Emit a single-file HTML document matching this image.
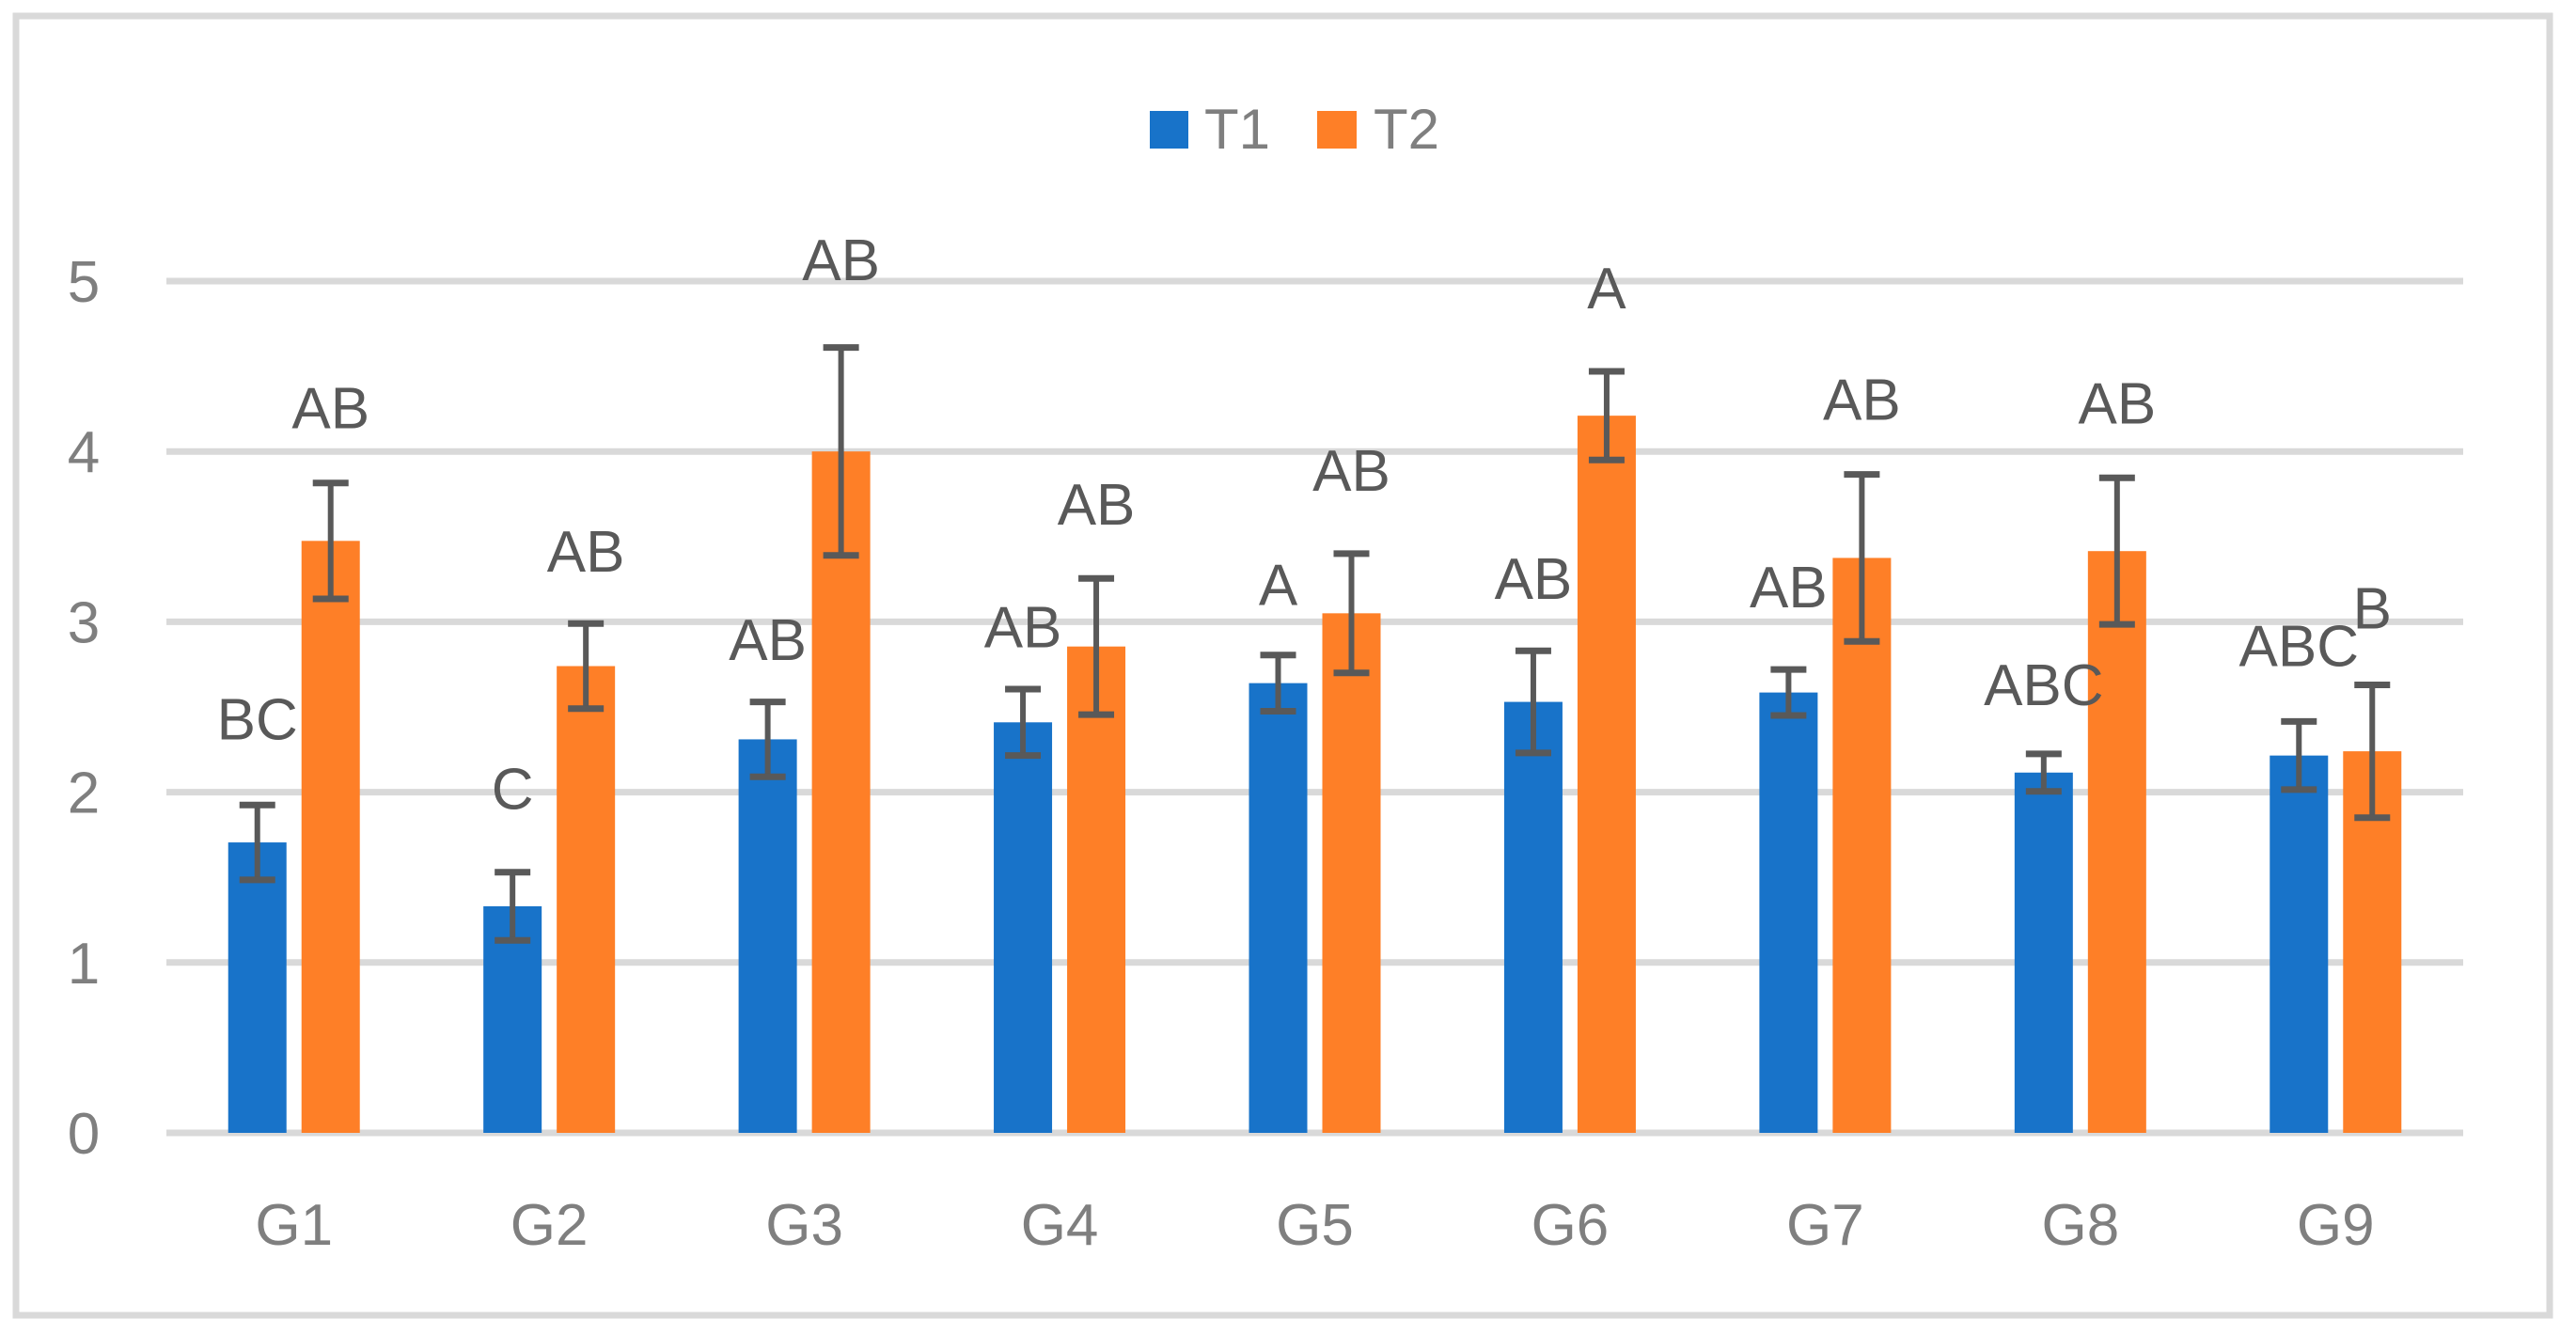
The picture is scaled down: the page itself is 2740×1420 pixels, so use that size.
<!DOCTYPE html>
<html><head><meta charset="utf-8"><style>
html,body{margin:0;padding:0;background:#fff;}
svg{display:block;font-family:"Liberation Sans",sans-serif;}
</style></head><body>
<svg id="chart" width="2740" height="1420" viewBox="0 0 2740 1420">
<rect x="17" y="17" width="2695" height="1382" fill="#fff" stroke="#d9d9d9" stroke-width="7"/>
<g id="grid"></g>
<g id="yticks"></g>
<g id="bars"></g>
<g id="errs"></g>
<g id="letters"></g>
<g id="xticks"></g>
<g>
<rect x="1223" y="118" width="41" height="40" fill="#1873c9"/>
<text x="1281" y="158" font-size="60" fill="#7f7f7f">T1</text>
<rect x="1401" y="118" width="42" height="40" fill="#fe7f27"/>
<text x="1461" y="158" font-size="60" fill="#7f7f7f">T2</text>
</g>
</svg>
<script>
const categories = ["G1","G2","G3","G4","G5","G6","G7","G8","G9"];
const t1Values = [1.705,1.33,2.31,2.41,2.64,2.53,2.585,2.115,2.215];
const t2Values = [3.475,2.74,4.0,2.855,3.05,4.21,3.375,3.415,2.24];
const t1Errors = [0.22,0.2,0.22,0.195,0.165,0.3,0.135,0.11,0.2];
const t2Errors = [0.34,0.25,0.61,0.4,0.35,0.26,0.49,0.43,0.39];
const t1Letters = ["BC","C","AB","AB","A","AB","AB","ABC","ABC"];
const t2Letters = ["AB","AB","AB","AB","AB","A","AB","AB","B"];
const t1LetterPos = [2.31,1.9,2.775,2.85,3.1,3.135,3.085,2.51,2.74];
const t2LetterPos = [4.135,3.295,5.005,3.57,3.77,4.84,4.185,4.165,2.96];
const yTicks = [0,1,2,3,4,5];

const NS="http://www.w3.org/2000/svg";
const plotL=177, plotR=2620, y0=1205, unit=181.2;
const band=(plotR-plotL)/categories.length;
const yS=v=>y0-v*unit;
const xC=i=>plotL+band*(i+0.5);
function mk(tag,attrs,parent){const e=document.createElementNS(NS,tag);for(const k in attrs)e.setAttribute(k,attrs[k]);parent.appendChild(e);return e;}
const G=id=>document.getElementById(id);

yTicks.forEach(t=>{
  const l=mk('line',{x1:plotL,x2:plotR,y1:yS(t),y2:yS(t),stroke:'#d9d9d9','stroke-width':7},G('grid'));
  
  
  const tx=mk('text',{x:89,y:yS(t)+22,'font-size':62,fill:'#7f7f7f','text-anchor':'middle'},G('yticks'));
  tx.textContent=String(t);
  
  
});

const bw=62, off=39;
categories.forEach((c,i)=>{
  [[t1Values,t1Errors,t1Letters,t1LetterPos,'#1873c9',-off,'t1'],[t2Values,t2Errors,t2Letters,t2LetterPos,'#fe7f27',off,'t2']].forEach(s=>{
    const [vals,errs,lets,lpos,col,o,nm]=s;
    const cx=xC(i)+o, v=vals[i];
    const r=mk('rect',{x:cx-bw/2,y:yS(v),width:bw,height:yS(0)-yS(v),fill:col},G('bars'));
    
    
    const e=errs[i];
    const g=mk('g',{stroke:'#595959','stroke-width':6},G('errs'));
    
    
    mk('line',{x1:cx,x2:cx,y1:yS(v+e),y2:yS(v-e)},g);
    mk('line',{x1:cx-19,x2:cx+19,y1:yS(v+e),y2:yS(v+e),'stroke-width':7},g);
    mk('line',{x1:cx-19,x2:cx+19,y1:yS(v-e),y2:yS(v-e),'stroke-width':7},g);
    const t=mk('text',{x:cx,y:yS(lpos[i]),'font-size':62,fill:'#595959','text-anchor':'middle'},G('letters'));
    t.textContent=lets[i];
    
    
  });
  const xt=mk('text',{x:xC(i),y:1324,'font-size':62,fill:'#7f7f7f','text-anchor':'middle'},G('xticks'));
  xt.textContent=c;
  
  
});
</script>
</body></html>
